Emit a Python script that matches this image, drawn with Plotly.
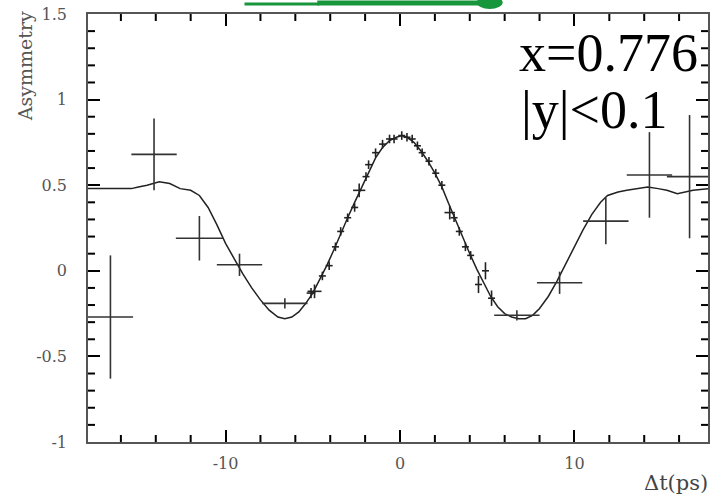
import plotly.graph_objects as go

# ---- data ----
curve_t = [-17.9, -16.5, -15.4, -15.0, -14.5, -13.8, -13.2, -12.6, -12.0, -11.5, -11.0, -10.5,
           -10.0, -9.5, -9.0, -8.5, -8.0, -7.5, -7.0, -6.6, -6.2, -5.8, -5.4, -5.0, -4.6, -4.2,
           -3.8, -3.4, -3.0, -2.6, -2.2, -1.8, -1.4, -1.0, -0.6, -0.2, 0.1, 0.4, 0.8, 1.2, 1.6,
           2.0, 2.4, 2.8, 3.2, 3.6, 4.0, 4.4, 4.8, 5.2, 5.6, 6.0, 6.4, 6.8, 7.2, 7.6, 8.0, 8.5,
           9.0, 9.5, 10.0, 10.5, 11.0, 11.5, 11.9, 12.5, 13.0, 13.5, 14.2, 14.8, 15.3, 15.9,
           16.4, 16.8, 17.7]
curve_a = [0.48, 0.48, 0.48, 0.49, 0.50, 0.52, 0.51, 0.48, 0.47, 0.44, 0.37, 0.27,
           0.16, 0.07, -0.02, -0.10, -0.17, -0.23, -0.27, -0.28, -0.27, -0.24, -0.19, -0.13, -0.05, 0.03,
           0.12, 0.22, 0.31, 0.40, 0.49, 0.58, 0.66, 0.72, 0.76, 0.78, 0.79, 0.78, 0.75, 0.70, 0.64,
           0.57, 0.49, 0.39, 0.29, 0.19, 0.10, 0.01, -0.07, -0.15, -0.21, -0.25, -0.27, -0.28, -0.28, -0.26, -0.22, -0.15,
           -0.06, 0.04, 0.14, 0.24, 0.33, 0.40, 0.44, 0.46, 0.47, 0.48, 0.49, 0.48, 0.47, 0.45,
           0.46, 0.47, 0.48]

wide_t = [-16.6, -14.1, -11.5, -9.2, -6.6, 6.7, 9.15, 11.8, 14.3, 16.6]
wide_a = [-0.27, 0.68, 0.19, 0.035, -0.19, -0.26, -0.07, 0.29, 0.56, 0.55]
wide_terr = [1.3, 1.3, 1.35, 1.3, 1.3, 1.3, 1.3, 1.3, 1.3, 1.3]
wide_aerr = [0.36, 0.21, 0.13, 0.065, 0.03, 0.03, 0.065, 0.135, 0.25, 0.36]

fine_t = [-5.1, -4.9, -4.45, -4.06, -3.7, -3.4, -3.0, -2.6, -2.34, -1.95, -1.8, -1.4, -1.0,
          -0.6, -0.34, 0.1, 0.4, 0.7, 1.0, 1.27, 1.66, 2.05, 2.4, 2.85, 3.1, 3.4, 3.75, 4.05,
          4.5, 4.9, 5.25]
fine_a = [-0.13, -0.12, -0.03, 0.03, 0.14, 0.23, 0.31, 0.37, 0.47, 0.55, 0.62, 0.69, 0.74,
          0.77, 0.77, 0.79, 0.78, 0.77, 0.73, 0.69, 0.64, 0.57, 0.50, 0.34, 0.31, 0.23, 0.14, 0.09,
          -0.08, 0.0, -0.16]
fine_terr = [0.25, 0.4, 0.2, 0.2, 0.2, 0.2, 0.2, 0.2, 0.35, 0.2, 0.2, 0.2, 0.2,
             0.2, 0.2, 0.2, 0.2, 0.2, 0.2, 0.2, 0.2, 0.2, 0.2, 0.3, 0.2, 0.2, 0.2, 0.2,
             0.2, 0.2, 0.2]
fine_aerr = [0.03, 0.04, 0.025, 0.025, 0.025, 0.025, 0.025, 0.025, 0.04, 0.025, 0.025, 0.025, 0.025,
             0.025, 0.025, 0.025, 0.025, 0.025, 0.025, 0.025, 0.025, 0.025, 0.025, 0.04, 0.025, 0.025, 0.025, 0.025,
             0.05, 0.05, 0.045]

x_tickvals = [-10, 0, 10]
x_ticktext = ["-10", "0", "10"]
x_minor_step = 2
y_tickvals = [-1, -0.5, 0, 0.5, 1, 1.5]
y_ticktext = ["-1", "-0.5", "0", "0.5", "1", "1.5"]
y_minor_step = 0.1

# ---- layout geometry (pixels) ----
W, H = 710, 497
L, R, T, B = 88, 0, 14, 55
px_per_t = 17.5
zero_px = 401
x_range = [(L - zero_px) / px_per_t, (W - R - zero_px) / px_per_t]
y_range = [-1, 1.5]
pw = W - L - R
ph = H - T - B
x_per_px = (x_range[1] - x_range[0]) / pw
y_per_px = (y_range[1] - y_range[0]) / ph

def px_x(p):
    return (p - L) / pw

def px_y(p):
    return (H - B - p) / ph

SERIF = "Liberation Serif, Times New Roman, serif"
WIDE_SERIF = "DejaVu Serif, serif"
INK = "#222222"
TICK = "#000000"

# ---- minor inward ticks on all four sides, built from the axis scales ----
MIN = 7
tx, ty = [], []
n = int((x_range[1] - x_range[0]) // x_minor_step) + 2
for k in range(-n, n + 1):
    v = k * x_minor_step
    if not (x_range[0] < v < x_range[1]) or any(abs(v - t) < 1e-9 for t in x_tickvals):
        continue
    ln = MIN * y_per_px
    tx += [v, v, None, v, v, None]
    ty += [y_range[0], y_range[0] + ln, None, y_range[1], y_range[1] - ln, None]
m = int(round((y_range[1] - y_range[0]) / y_minor_step))
for k in range(1, m):
    v = round(y_range[0] + k * y_minor_step, 6)
    if any(abs(v - t) < 1e-9 for t in y_tickvals):
        continue
    ln = MIN * x_per_px
    tx += [x_range[0], x_range[0] + ln, None, x_range[1], x_range[1] - ln, None]
    ty += [v, v, None, v, v, None]

fig = go.Figure()
fig.add_trace(go.Scatter(x=tx, y=ty, mode="lines", line=dict(color=TICK, width=2),
                         hoverinfo="skip", connectgaps=False))
fig.add_trace(go.Scatter(x=curve_t, y=curve_a, mode="lines",
                         line=dict(color=INK, width=1.5), hoverinfo="skip"))
fig.add_trace(go.Scatter(x=wide_t, y=wide_a, mode="markers", marker=dict(size=0.1, color=INK),
                         error_x=dict(type="data", array=wide_terr, width=0, thickness=1.6, color="#333333"),
                         error_y=dict(type="data", array=wide_aerr, width=0, thickness=1.6, color="#333333")))
fig.add_trace(go.Scatter(x=fine_t, y=fine_a, mode="markers", marker=dict(size=0.1, color=INK),
                         error_x=dict(type="data", array=fine_terr, width=0, thickness=1.6, color=INK),
                         error_y=dict(type="data", array=fine_aerr, width=0, thickness=1.6, color=INK)))

axis_common = dict(showline=True, linecolor="#555555", linewidth=1.5, mirror="allticks",
                   ticks="inside", ticklen=12, tickwidth=2.2, tickcolor=TICK,
                   showgrid=False, zeroline=False,
                   tickfont=dict(family=WIDE_SERIF, size=16, color="#555555"))

fig.update_xaxes(range=x_range, tickvals=x_tickvals, ticktext=x_ticktext,
                 ticklabelstandoff=6, **axis_common)
fig.update_yaxes(range=y_range, tickvals=y_tickvals, ticktext=y_ticktext,
                 ticklabelstandoff=16, **axis_common)

GREEN = "#17963c"
fig.update_layout(
    width=W, height=H,
    margin=dict(l=L, r=R, t=T, b=B, pad=0),
    plot_bgcolor="white", paper_bgcolor="white",
    showlegend=False,
    shapes=[
        dict(type="line", xref="paper", yref="paper", x0=px_x(245), x1=px_x(320), y0=px_y(4), y1=px_y(4),
             line=dict(color=GREEN, width=3)),
        dict(type="line", xref="paper", yref="paper", x0=px_x(318), x1=px_x(500), y0=px_y(3), y1=px_y(3),
             line=dict(color=GREEN, width=5)),
        dict(type="circle", xref="paper", yref="paper", x0=px_x(478), x1=px_x(504), y0=px_y(9), y1=px_y(-4),
             fillcolor=GREEN, line=dict(color=GREEN, width=0)),
    ],
    annotations=[
        dict(text="Asymmetry", xref="paper", yref="paper", x=px_x(25), y=px_y(66), textangle=-90,
             showarrow=False, font=dict(family=WIDE_SERIF, size=19, color="#555555"),
             xanchor="center", yanchor="middle"),
        dict(text="Δt(ps)", xref="paper", yref="paper", x=px_x(712), y=px_y(483),
             showarrow=False, font=dict(family=WIDE_SERIF, size=21, color="#444444"),
             xanchor="right", yanchor="middle"),
        dict(text="x=0.776", xref="paper", yref="paper", x=px_x(518), y=px_y(53),
             showarrow=False, font=dict(family=SERIF, size=54, color="black"),
             xanchor="left", yanchor="middle"),
        dict(text="|y|<0.1", xref="paper", yref="paper", x=px_x(520), y=px_y(110),
             showarrow=False, font=dict(family=SERIF, size=54, color="black"),
             xanchor="left", yanchor="middle"),
    ],
)

fig.write_html("out.html")
